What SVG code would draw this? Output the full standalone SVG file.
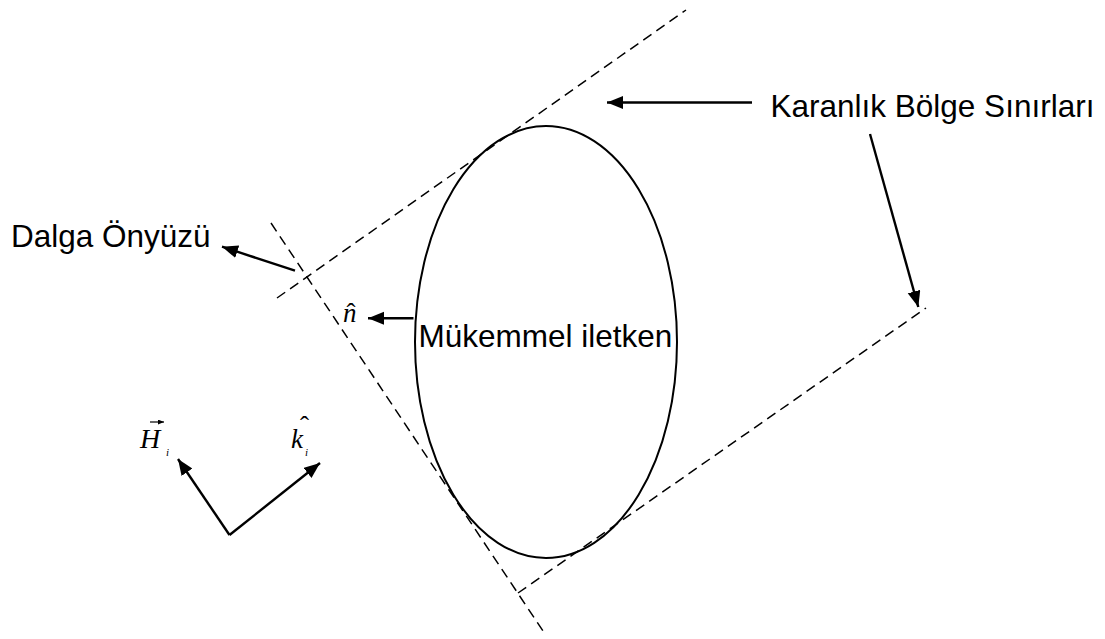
<svg xmlns="http://www.w3.org/2000/svg" width="1105" height="639" viewBox="0 0 1105 639">
<style>
.lbl{font-family:"Liberation Sans",Arial,sans-serif;font-size:31.5px;fill:#000}
.math{font-family:"Liberation Serif","Times New Roman",serif;font-style:italic;fill:#000}
.hat{font-style:normal}
.dash{fill:none;stroke:#000;stroke-width:1.5;stroke-dasharray:10 6}
.arr{fill:none;stroke:#000;stroke-width:2.4;marker-end:url(#ah)}
</style>
<defs>
<marker id="ah" markerUnits="userSpaceOnUse" markerWidth="18" markerHeight="14" refX="16" refY="6.5" orient="auto">
<path d="M0,0 L16,6.5 L0,13 z" fill="#000"/>
</marker>
<marker id="sm" markerUnits="userSpaceOnUse" markerWidth="7" markerHeight="6" refX="6" refY="2.5" orient="auto">
<path d="M0,0 L6,2.5 L0,5 z" fill="#000"/>
</marker>
</defs>
<rect width="1105" height="639" fill="#fff"/>
<g id="boundaries">
<line class="dash" x1="277" y1="298" x2="686" y2="10"/>
<line class="dash" x1="271" y1="223" x2="545" y2="634"/>
<line class="dash" x1="518" y1="593" x2="926" y2="308"/>
</g>
<g id="conductor">
<ellipse cx="546" cy="342" rx="131" ry="216" fill="none" stroke="#000" stroke-width="2"/>
<text class="lbl" x="418.5" y="346.7">Mükemmel iletken</text>
</g>
<g id="dark-region-label">
<text class="lbl" x="770.5" y="116.7">Karanlık Bölge Sınırları</text>
</g>
<g id="wavefront-label">
<text class="lbl" x="11" y="246.7">Dalga Önyüzü</text>
</g>
<g id="normal-label">
<text class="math" x="343" y="322" font-size="27">n<tspan class="hat" dx="-10" dy="0">ˆ</tspan></text>
</g>
<g id="H-label">
<text class="math" x="140" y="448" font-size="28">H</text>
<line x1="150" y1="422" x2="164" y2="422" stroke="#000" stroke-width="1.2" marker-end="url(#sm)"/>
<text class="math" x="166" y="456" font-size="11">i</text>
</g>
<g id="k-label">
<text class="math" x="291" y="448" font-size="27">k<tspan class="hat" dx="-3" dy="-13">ˆ</tspan></text>
<text class="math" x="305" y="456" font-size="11">i</text>
</g>
<g id="connectors">
<line class="arr" x1="752" y1="102.5" x2="607" y2="102.5"/>
<line class="arr" x1="870" y1="134" x2="918.3" y2="307"/>
<line class="arr" x1="295" y1="270.7" x2="222" y2="246.7"/>
<line class="arr" x1="413.5" y1="318.3" x2="368" y2="318.3"/>
<line class="arr" x1="229.5" y1="535" x2="178" y2="459"/>
<line class="arr" x1="229.5" y1="535" x2="320" y2="463"/>
</g>
</svg>
